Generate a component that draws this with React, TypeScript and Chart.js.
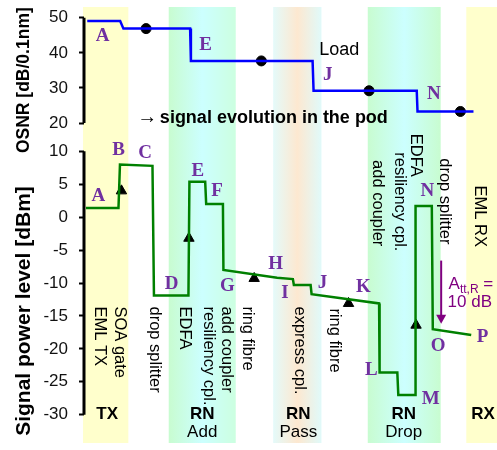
import React, { useEffect, useRef } from 'react';
import { Chart, registerables } from 'chart.js';
Chart.register(...registerables);

const SANS = "'Liberation Sans', Arial, Helvetica, sans-serif";
const SERIF = "'Liberation Serif', 'Times New Roman', serif";

// ---- upper panel: OSNR [dB/0.1nm] ----
const osnrX = [3.3, 36.7, 40, 107.7, 108.5, 232, 233, 337.7, 338.5, 395.3];
const osnrY = [49.1, 49.1, 46.9, 46.9, 37.7, 37.7, 29.2, 29.2, 23.3, 23.3];
const osnrDotX = [63, 180, 289.3, 382];
const osnrDotY = [46.9, 37.7, 29.2, 23.3];
const osnrTicks = [50, 40, 30, 20];

// ---- lower panel: signal power level [dBm] ----
const powerX = [2, 35, 36.5, 69.5, 71, 106, 107, 123, 124, 141, 141.5, 196, 212, 213, 230, 231, 299.5, 300, 318, 319, 336, 336.5, 353, 354, 393];
const powerY = [1.4, 1.4, 8.0, 7.8, -11.9, -11.9, 5.4, 5.4, 2.0, 2.0, -8.0, -9.2, -9.4, -10.3, -10.3, -11.7, -13.1, -23.6, -23.6, -27.0, -27.0, 1.7, 1.7, -17.0, -17.9];
const ampX = [38, 106.5, 172.7, 268.5, 337];
const ampY = [4.0, -3.2, -9.3, -13.1, -16.4];
const powerTicks = [10, 5, 0, -5, -10, -15, -20, -25, -30];

// ---- point letters ----
const upLetters = ['A', 'E', 'J', 'N'];
const upLetterX = [19, 123.5, 247.5, 355];
const upLetterY = [45.3, 42.8, 34.2, 28.6];
const lowLetters = ['A', 'B', 'C', 'D', 'E', 'F', 'G', 'H', 'I', 'J', 'K', 'L', 'M', 'N', 'O', 'P'];
const lowLetterX = [14.5, 35, 62, 89, 115.5, 135, 145.5, 194.5, 204, 242, 283.5, 291.5, 352, 348.5, 359.5, 404.5];
const lowLetterY = [3.4, 10.4, 10.0, -9.85, 7.26, 4.15, -10.15, -6.9, -11.33, -9.78, -10.37, -23.04, -27.4, 4.22, -19.4, -17.9];

// ---- component labels (vertical text) ----
const compLabels = ['SOA gate', 'EML TX', 'drop splitter', 'EDFA', 'resiliency cpl.', 'add coupler', 'ring fibre', 'express cpl.', 'ring fibre', 'add coupler', 'resiliency cpl.', 'EDFA', 'drop splitter', 'EML RX'];
const compX = [36.5, 16, 72, 102, 126, 145, 166, 219, 254, 298, 320, 336, 366, 401];
const compY = [-13.56, -13.56, -13.56, -13.56, -13.56, -13.56, -13.56, -13.56, -13.85, 8.67, 9.85, 12.67, 8.96, 4.81];

// ---- node bands ----
const bandStart = [-1, 86, 192, 288, 388];
const bandEnd = [45, 154, 241, 362, 440];
const bandTitle = ['TX', 'RN', 'RN', 'RN', 'RX'];
const bandSub = ['', 'Add', 'Pass', 'Drop', ''];
const bandLabelX = [23.5, 120, 217.5, 324.5, 405];
const bandColors = [
  ['#ffffcc', '#ffffcc', '#ffffcc'],
  ['#c8fcd0', '#ccffff', '#ccffe0'],
  ['#e4fafa', '#fde8d0', '#e0fafa'],
  ['#c8fcd0', '#ccffff', '#c8fcd0'],
  ['#ffffcc', '#ffffcc', '#ffffcc'],
];

const annot = {
  id: 'annot',
  beforeDraw(chart: any) {
    const { ctx, chartArea, scales } = chart;
    const x = scales.x;
    ctx.save();
    for (let i = 0; i < bandStart.length; i++) {
      const x1 = x.getPixelForValue(bandStart[i]);
      const x2 = x.getPixelForValue(bandEnd[i]);
      const g = ctx.createLinearGradient(x1, 0, x2, 0);
      g.addColorStop(0, bandColors[i][0]);
      g.addColorStop(0.5, bandColors[i][1]);
      g.addColorStop(1, bandColors[i][2]);
      ctx.fillStyle = g;
      ctx.fillRect(x1, chartArea.top, x2 - x1, chartArea.bottom - chartArea.top);
    }
    ctx.restore();
  },
  afterDatasetsDraw(chart: any) {
    const { ctx, chartArea, scales } = chart;
    const X = (v: number) => scales.x.getPixelForValue(v);
    const YO = (v: number) => scales.yO.getPixelForValue(v);
    const YP = (v: number) => scales.yP.getPixelForValue(v);
    ctx.save();
    // axis lines
    ctx.strokeStyle = '#000';
    ctx.lineWidth = 3;
    ctx.beginPath();
    ctx.moveTo(chartArea.left, YO(osnrTicks[0]));
    ctx.lineTo(chartArea.left, YO(osnrTicks[osnrTicks.length - 1]));
    ctx.moveTo(chartArea.left, YP(powerTicks[0]));
    ctx.lineTo(chartArea.left, YP(powerTicks[powerTicks.length - 1]));
    ctx.stroke();

    // axis titles
    ctx.fillStyle = '#000';
    ctx.textAlign = 'center';
    ctx.textBaseline = 'middle';
    ctx.save();
    ctx.translate(24, (YO(53) + YO(16)) / 2 + 8);
    ctx.rotate(-Math.PI / 2);
    ctx.font = `bold 17.5px ${SANS}`;
    ctx.fillText('OSNR [dB/0.1nm]', 0, 0);
    ctx.restore();
    ctx.save();
    ctx.translate(24, 311);
    ctx.rotate(-Math.PI / 2);
    ctx.font = `bold 21px ${SANS}`;
    ctx.fillText('Signal power level [dBm]', 0, 0);
    ctx.restore();

    // letters
    ctx.fillStyle = '#7030a0';
    ctx.font = `bold 19px ${SERIF}`;
    ctx.textAlign = 'center';
    ctx.textBaseline = 'alphabetic';
    upLetters.forEach((t, i) => ctx.fillText(t, X(upLetterX[i]), YO(upLetterY[i]) + 6.5));
    lowLetters.forEach((t, i) => ctx.fillText(t, X(lowLetterX[i]), YP(lowLetterY[i]) + 6.5));

    // Load + signal evolution text
    ctx.fillStyle = '#000';
    ctx.font = `18px ${SANS}`;
    ctx.textBaseline = 'middle';
    ctx.fillText('Load', X(259), YO(40.8));
    ctx.textAlign = 'left';
    ctx.font = `20px ${SANS}`;
    ctx.fillText('\u2192', X(54), YO(21.6));
    ctx.font = `bold 18px ${SANS}`;
    ctx.fillText('signal evolution in the pod', X(77), YO(21.4));

    // vertical component labels
    ctx.font = `16.5px ${SANS}`;
    ctx.textAlign = 'left';
    ctx.textBaseline = 'middle';
    compLabels.forEach((t, i) => {
      ctx.save();
      ctx.translate(X(compX[i]), YP(compY[i]));
      ctx.rotate(Math.PI / 2);
      ctx.fillText(t, 0, 0);
      ctx.restore();
    });

    // band labels
    ctx.textAlign = 'center';
    bandTitle.forEach((t, i) => {
      ctx.font = `bold 17px ${SANS}`;
      ctx.fillText(t, X(bandLabelX[i]), YP(-30.0));
      if (bandSub[i]) {
        ctx.font = `17px ${SANS}`;
        ctx.fillText(bandSub[i], X(bandLabelX[i]), YP(-32.67));
      }
    });

    // attenuation arrow
    const ax = X(362.5);
    const ay1 = YP(-6.59);
    const ay2 = YP(-16.2);
    ctx.strokeStyle = '#800080';
    ctx.fillStyle = '#800080';
    ctx.lineWidth = 2;
    ctx.beginPath();
    ctx.moveTo(ax, ay1);
    ctx.lineTo(ax, ay2 - 8);
    ctx.stroke();
    ctx.beginPath();
    ctx.moveTo(ax - 5, ay2 - 9);
    ctx.lineTo(ax + 5, ay2 - 9);
    ctx.lineTo(ax, ay2);
    ctx.closePath();
    ctx.fill();
    ctx.textAlign = 'left';
    ctx.textBaseline = 'alphabetic';
    const tx = X(370);
    const ty = YP(-10.9);
    ctx.font = `17px ${SANS}`;
    ctx.fillText('A', tx, ty);
    let w = ctx.measureText('A').width;
    ctx.font = `12px ${SANS}`;
    ctx.fillText('tt,R', tx + w, ty + 4);
    w += ctx.measureText('tt,R').width;
    ctx.font = `17px ${SANS}`;
    ctx.fillText(' =', tx + w, ty);
    ctx.fillText('10 dB', X(369), YP(-13.7));
    ctx.restore();
  },
};

function yScale(min: number, max: number, weight: number, ticks: number[]) {
  return {
    type: 'linear',
    position: 'left',
    stack: 'panels',
    stackWeight: weight,
    min,
    max,
    border: { display: false },
    grid: { drawOnChartArea: false, drawTicks: true, tickLength: 5, tickWidth: 2, tickColor: '#000' },
    ticks: {
      color: '#111',
      padding: 11,
      autoSkip: false,
      font: { family: SANS, size: 17 },
      callback: (v: any) => String(v),
    },
    afterBuildTicks: (s: any) => {
      s.ticks = ticks.map((v) => ({ value: v }));
    },
    afterFit: (s: any) => {
      s.width = 84;
      s.paddingTop = 0;
      s.paddingBottom = 0;
    },
  };
}

export default function App() {
  const ref = useRef<HTMLCanvasElement>(null);
  useEffect(() => {
    if (!ref.current) return;
    const chart = new Chart(ref.current, {
      type: 'line',
      data: {
        datasets: [
          {
            data: osnrX.map((x, i) => ({ x, y: osnrY[i] })),
            yAxisID: 'yO',
            borderColor: '#0000ff',
            borderWidth: 2.5,
            pointRadius: 0,
            fill: false,
            tension: 0,
          },
          {
            data: osnrDotX.map((x, i) => ({ x, y: osnrDotY[i] })),
            yAxisID: 'yO',
            showLine: false,
            pointRadius: 5,
            pointBackgroundColor: '#000',
            pointBorderColor: '#000',
          },
          {
            data: powerX.map((x, i) => ({ x, y: powerY[i] })),
            yAxisID: 'yP',
            borderColor: '#008000',
            borderWidth: 2.5,
            pointRadius: 0,
            fill: false,
            tension: 0,
          },
          {
            data: ampX.map((x, i) => ({ x, y: ampY[i] })),
            yAxisID: 'yP',
            showLine: false,
            pointStyle: 'triangle',
            pointRadius: 6,
            pointBackgroundColor: '#000',
            pointBorderColor: '#000',
          },
        ],
      },
      options: {
        responsive: false,
        animation: false,
        devicePixelRatio: 1,
        layout: { padding: { top: 3, left: 0, right: 0, bottom: 0 } },
        plugins: { legend: { display: false }, tooltip: { enabled: false } },
        scales: {
          x: { type: 'linear', display: false, min: 0, max: 476 },
          yP: yScale(-34.296, 12.148, 313.5, powerTicks) as any,
          yO: yScale(15.972, 53.056, 133.5, osnrTicks) as any,
        },
      },
      plugins: [annot],
    });
    return () => chart.destroy();
  }, []);
  return (
    <div style={{ position: 'absolute', left: 0, top: 0, width: 497, height: 450, overflow: 'hidden', background: '#fff' }}>
      <canvas ref={ref} width={560} height={450} style={{ display: 'block' }} />
    </div>
  );
}
